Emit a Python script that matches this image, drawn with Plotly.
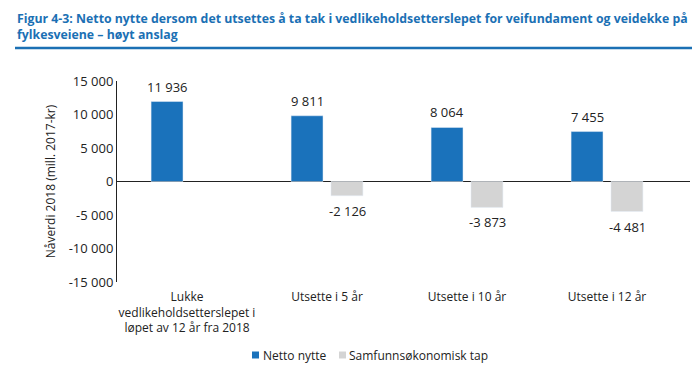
import plotly.graph_objects as go

categories = ["Lukke<br>vedlikeholdsetterslepet i<br>løpet av 12 år fra 2018",
              "Utsette i 5 år", "Utsette i 10 år", "Utsette i 12 år"]
netto_nytte = [11936, 9811, 8064, 7455]
samf_tap = [None, -2126, -3873, -4481]
y_ticks = [-15000, -10000, -5000, 0, 5000, 10000, 15000]
series_names = ["Netto nytte", "Samfunnsøkonomisk tap"]

def fmt(v):
    s = f"{abs(v):,}".replace(",", " ")
    return ("-" if v < 0 else "") + s

FONT = "Open Sans"
BLUE = "#1a72bb"
GREY = "#d4d4d4"
TXT = "#222"
TITLE_C = "#1b70b4"

# figure is drawn in a page with 8px body margin -> use 692x364 canvas
W, H = 692, 364
L, R, T, B = 109, 10, 73, 90
PW, PH = W - L - R, H - T - B

fig = go.Figure()
for vals, name, col, shift in [(netto_nytte, series_names[0], BLUE, -20),
                               (samf_tap, series_names[1], GREY, 20)]:
    fig.add_trace(go.Bar(x=categories, y=vals, name=name, marker_color=col,
                         showlegend=False))
    for c, v in zip(categories, vals):
        if v is None:
            continue
        fig.add_annotation(x=c, y=v, text=fmt(v), showarrow=False,
                           xshift=shift, yshift=15 if v > 0 else -15,
                           yanchor="middle", font=dict(size=13, color=TXT))

fig.update_layout(
    width=W, height=H,
    margin=dict(l=L, r=R, t=T, b=B, autoexpand=False),
    paper_bgcolor="white", plot_bgcolor="white",
    font=dict(family=FONT, size=12.5, color=TXT),
    barmode="group", bargap=0.43, bargroupgap=0.2,
    showlegend=False,
    xaxis=dict(type="category", range=[-0.5, -0.5 + PW / 140], showline=False, ticks="",
               showgrid=False, tickfont=dict(size=12), automargin=False,
               ticklabelstandoff=6),
    yaxis=dict(range=[-15000, 15000], tickvals=y_ticks,
               ticktext=[fmt(v) for v in y_ticks],
               showgrid=False, showline=True, linecolor=TXT, linewidth=1,
               zeroline=True, zerolinecolor=TXT, zerolinewidth=1,
               ticks="", tickfont=dict(size=13), automargin=False,
               title=dict(text="Nåverdi 2018 (mill. 2017-kr)", font=dict(size=12), standoff=10)),
)

def px_x(x):
    return (x - L) / PW

def px_y(y):
    return (T + PH - y) / PH

fig.add_annotation(xref="paper", yref="paper", x=px_x(7), y=px_y(0),
                   xanchor="left", yanchor="top", align="left", showarrow=False,
                   text="<b>Figur 4-3: Netto nytte dersom det utsettes å ta tak i vedlikeholdsetterslepet for veifundament og veidekke på<br>fylkesveiene – høyt anslag</b>",
                   font=dict(family=FONT, size=12.3, color=TITLE_C))
fig.add_shape(type="line", xref="paper", yref="paper",
              x0=px_x(7), x1=1.0 + 4 / PW, y0=px_y(40), y1=px_y(40),
              line=dict(color=TITLE_C, width=2.5))

# legend (squares + labels)
leg_y = 347
for sx, tx, col, name in [(244, 253, BLUE, series_names[0]), (331, 339, GREY, series_names[1])]:
    fig.add_shape(type="rect", xref="paper", yref="paper",
                  x0=px_x(sx), x1=px_x(sx + 7), y0=px_y(leg_y + 3.5), y1=px_y(leg_y - 3.5),
                  fillcolor=col, line=dict(width=0))
    fig.add_annotation(xref="paper", yref="paper", x=px_x(tx), y=px_y(leg_y),
                       xanchor="left", yanchor="middle", showarrow=False,
                       text=name, font=dict(size=12, color=TXT))

fig.write_html("out.html")
